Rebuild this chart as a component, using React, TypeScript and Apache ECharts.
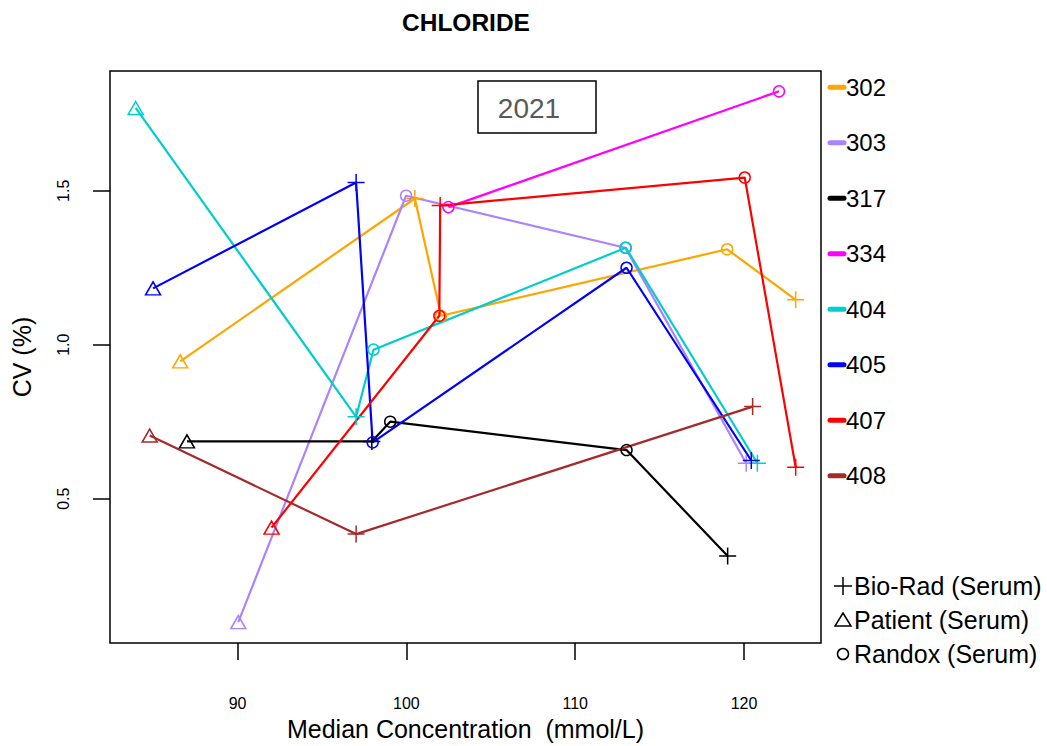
import React, { useEffect, useRef } from 'react';
import * as echarts from 'echarts';

const labs = ['302', '303', '317', '334', '404', '405', '407', '408'];
const labColors = ['#FFA500', '#AB82FF', '#000000', '#FF00FF', '#00CDCD', '#0000FF', '#FF0000', '#A52A2A'];

// median concentration (mmol/L)
const x302 = [86.6, 100.5, 102.05, 119.0, 123.06];
const x303 = [90.04, 99.98, 112.97, 120.13];
const x317 = [87.0, 97.95, 99.04, 113.04, 119.03];
const x334 = [102.49, 122.07];
const x404 = [83.96, 97.02, 98.05, 113.0, 120.79];
const x405 = [84.99, 97.02, 98.0, 113.04, 120.43];
const x407 = [92.01, 101.95, 102.0, 120.04, 123.06];
const x408 = [84.79, 97.02, 120.51];

// CV (%)
const y302 = [0.946, 1.475, 1.094, 1.31, 1.146];
const y303 = [0.099, 1.484, 1.315, 0.615];
const y317 = [0.686, 0.686, 0.75, 0.658, 0.314];
const y334 = [1.447, 1.823];
const y404 = [1.769, 0.766, 0.984, 1.315, 0.615];
const y405 = [1.183, 1.527, 0.683, 1.25, 0.624];
const y407 = [0.406, 1.094, 1.452, 1.543, 0.602];
const y408 = [0.705, 0.385, 0.799];

// material: B = Bio-Rad, P = Patient, R = Randox
const t302 = ['P', 'B', 'R', 'R', 'B'];
const t303 = ['P', 'R', 'R', 'B'];
const t317 = ['P', 'B', 'R', 'R', 'B'];
const t334 = ['R', 'R'];
const t404 = ['P', 'B', 'R', 'R', 'B'];
const t405 = ['P', 'B', 'R', 'R', 'B'];
const t407 = ['P', 'R', 'B', 'R', 'B'];
const t408 = ['P', 'B', 'B'];

const xsAll = [x302, x303, x317, x334, x404, x405, x407, x408];
const ysAll = [y302, y303, y317, y334, y404, y405, y407, y408];
const tsAll = [t302, t303, t317, t334, t404, t405, t407, t408];

const materialCodes = ['B', 'P', 'R'];
const materialNames = ['Bio-Rad (Serum)', 'Patient (Serum)', 'Randox (Serum)'];

const xTicks = [90, 100, 110, 120];
const yTicks = [0.5, 1.0, 1.5];

const PLUS = 'path://M0,5L10,5M5,0L5,10';
const symbolOf: Record<string, string> = { B: PLUS, P: 'triangle', R: 'circle' };
const sizeOf: Record<string, number | number[]> = { B: 17, P: [15, 13], R: 11 };

const FONT = '"Liberation Sans", Arial, Helvetica, sans-serif';

export default function App() {
  const ref = useRef<HTMLDivElement>(null);
  useEffect(() => {
    const chart = echarts.init(ref.current!, null, { renderer: 'svg' });

    const series = labs.map((lab, i) => ({
      type: 'line',
      name: lab,
      data: xsAll[i].map((x, j) => ({
        value: [x, ysAll[i][j]],
        symbol: symbolOf[tsAll[i][j]],
        symbolSize: sizeOf[tsAll[i][j]],
      })),
      showAllSymbol: true,
      lineStyle: { color: labColors[i], width: 2.2 },
      itemStyle: { color: 'rgba(0,0,0,0)', borderColor: labColors[i], borderWidth: 1.5 },
      emphasis: { disabled: true },
      silent: true,
    }));

    const legendGraphics: any[] = [];
    const legY0 = 87.3;
    const legStep = 55.5;
    labs.forEach((lab, i) => {
      const y = legY0 + i * legStep;
      legendGraphics.push({
        type: 'line',
        shape: { x1: 830, y1: y, x2: 844, y2: y },
        style: { stroke: labColors[i], lineWidth: 5, lineCap: 'round' },
      });
      legendGraphics.push({
        type: 'text',
        style: {
          text: lab, x: 846, y, fill: '#000', font: `24px ${FONT}`,
          textAlign: 'left', align: 'left', textVerticalAlign: 'middle', verticalAlign: 'middle',
        },
      });
    });

    const matY = [586, 620, 654];
    materialCodes.forEach((code, k) => {
      const y = matY[k];
      const cx = 843;
      if (code === 'B') {
        legendGraphics.push({ type: 'line', shape: { x1: cx - 9, y1: y, x2: cx + 9, y2: y }, style: { stroke: '#000', lineWidth: 1.5 } });
        legendGraphics.push({ type: 'line', shape: { x1: cx, y1: y - 9, x2: cx, y2: y + 9 }, style: { stroke: '#000', lineWidth: 1.5 } });
      } else if (code === 'P') {
        legendGraphics.push({
          type: 'polygon',
          shape: { points: [[cx, y - 7], [cx + 8, y + 6], [cx - 8, y + 6]] },
          style: { fill: 'none', stroke: '#000', lineWidth: 1.5 },
        });
      } else {
        legendGraphics.push({ type: 'circle', shape: { cx, cy: y, r: 5.5 }, style: { fill: 'none', stroke: '#000', lineWidth: 1.5 } });
      }
      legendGraphics.push({
        type: 'text',
        style: {
          text: materialNames[k], x: 854, y, fill: '#000', font: `25px ${FONT}`,
          textAlign: 'left', align: 'left', textVerticalAlign: 'middle', verticalAlign: 'middle',
        },
      });
    });

    const option: any = {
      animation: false,
      backgroundColor: '#fff',
      textStyle: { fontFamily: FONT },
      grid: {
        left: 110, right: 226, top: 71, bottom: 98,
        show: true, borderColor: '#000', borderWidth: 1.5, backgroundColor: 'transparent',
        containLabel: false,
      },
      xAxis: {
        type: 'value',
        min: 82.44,
        max: 124.56,
        name: 'Median Concentration  (mmol/L)',
        nameLocation: 'middle',
        nameGap: 72,
        nameTextStyle: { fontFamily: FONT, fontSize: 25, color: '#000' },
        axisLine: { show: false },
        splitLine: { show: false },
        axisTick: { show: true, length: 17, inside: false, lineStyle: { color: '#000', width: 1.5 }, customValues: xTicks },
        axisLabel: { show: true, margin: 52, fontSize: 16, color: '#000', fontFamily: FONT, customValues: xTicks },
      },
      yAxis: {
        type: 'value',
        min: 0.031,
        max: 1.889,
        name: 'CV (%)',
        nameLocation: 'middle',
        nameRotate: 90,
        nameGap: 76,
        nameTextStyle: { fontFamily: FONT, fontSize: 25, color: '#000' },
        axisLine: { show: false },
        splitLine: { show: false },
        axisTick: { show: true, length: 17, inside: false, lineStyle: { color: '#000', width: 1.5 }, customValues: yTicks },
        axisLabel: {
          show: true, margin: 39, fontSize: 16, color: '#000', fontFamily: FONT, rotate: 90,
          customValues: yTicks,
          formatter: (v: number) => v.toFixed(1),
        },
      },
      series,
      graphic: [
        {
          type: 'text',
          style: {
            text: 'CHLORIDE', x: 466, y: 22, fill: '#000', font: `bold 24.5px ${FONT}`,
            textAlign: 'center', align: 'center', textVerticalAlign: 'middle', verticalAlign: 'middle',
          },
        },
        {
          type: 'rect',
          shape: { x: 478, y: 81, width: 118, height: 52 },
          style: { fill: '#fff', stroke: '#000', lineWidth: 1.5 },
          z: 10,
        },
        {
          type: 'text',
          z: 11,
          style: {
            text: '2021', x: 529, y: 108, fill: '#595959', font: `28px ${FONT}`,
            textAlign: 'center', align: 'center', textVerticalAlign: 'middle', verticalAlign: 'middle',
          },
        },
        ...legendGraphics,
      ],
    };

    chart.setOption(option);
    return () => chart.dispose();
  }, []);

  return <div ref={ref} style={{ position: 'fixed', left: 0, top: 0, width: 1047, height: 746 }} />;
}
